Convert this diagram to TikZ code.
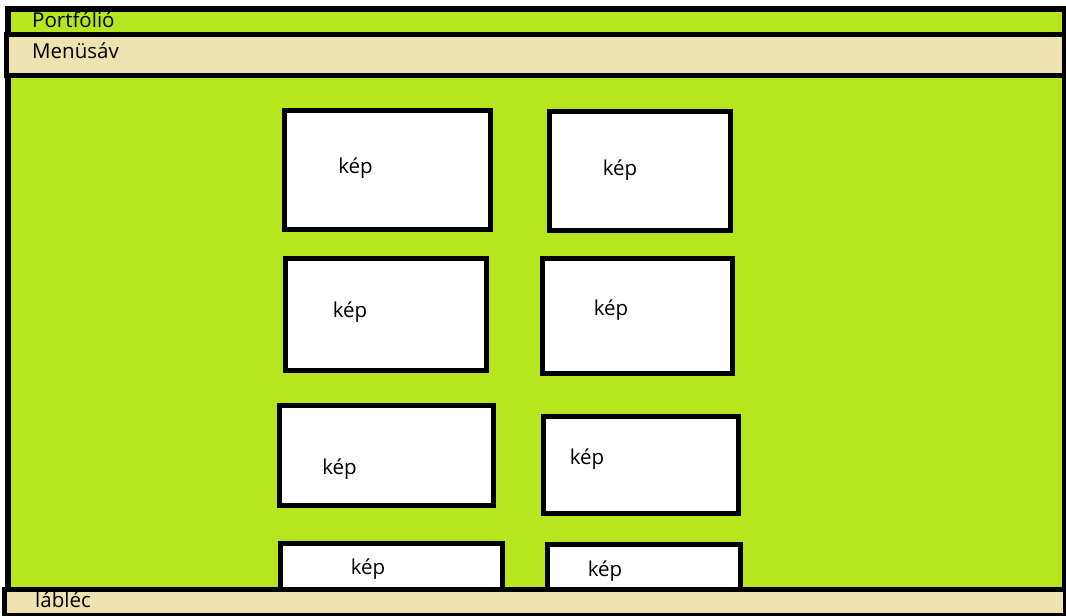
\documentclass[tikz,border=0pt]{standalone}
\usepackage{fontspec}
\setmainfont{Open Sans}
\definecolor{pagegreen}{RGB}{184,230,30}
\definecolor{barbeige}{RGB}{238,226,176}
\tikzset{
  frame/.style={draw=black,line width=6pt,fill=pagegreen},
  bar/.style={draw=black,line width=5.5pt,fill=barbeige},
  picbox/.style={draw=black,line width=5pt,fill=white},
  lbl/.style={inner sep=0pt,font=\fontsize{20.5}{24}\selectfont,text=black},
}
\begin{document}
\begin{tikzpicture}[x=1pt,y=-1pt]
\useasboundingbox (0,0) rectangle (1066,616);
\fill[white] (0,0) rectangle (1066,616);
% outer frame
\draw[frame] (7.5,8.5) rectangle (1065,619);
\node[lbl,anchor=base west] (title) at (32,27.5) {Portfólió};
% menu bar
\draw[bar] (6.5,34.5) rectangle (1065,75.5);
\node[lbl,anchor=base west] (menu) at (32,58.5) {Menüsáv};
% picture boxes
\draw[picbox] (284.5,110.5) rectangle (490.5,229.5);
\node[lbl] (k1) at (355.5,168.5) {kép};
\draw[picbox] (549.5,111.5) rectangle (730.5,230.5);
\node[lbl] (k2) at (620,170.5) {kép};
\draw[picbox] (285.5,258.5) rectangle (486.5,370.5);
\node[lbl] (k3) at (350,312.5) {kép};
\draw[picbox] (542.5,258.5) rectangle (732.5,373.5);
\node[lbl] (k4) at (611,310.5) {kép};
\draw[picbox] (279.5,405.5) rectangle (493.5,505.5);
\node[lbl] (k5) at (339.5,469) {kép};
\draw[picbox] (543.5,416.5) rectangle (738.5,513.5);
\node[lbl] (k6) at (587,459.5) {kép};
\draw[picbox] (280.5,543.5) rectangle (502.5,600);
\node[lbl] (k7) at (368,569.5) {kép};
\draw[picbox] (547.5,544.5) rectangle (740.5,600);
\node[lbl] (k8) at (605,571.5) {kép};
% footer
\draw[bar,line width=5pt] (4.5,589.5) rectangle (1065,615.5);
\node[lbl,anchor=base west] (foot) at (35,607.5) {lábléc};
\end{tikzpicture}
\end{document}
